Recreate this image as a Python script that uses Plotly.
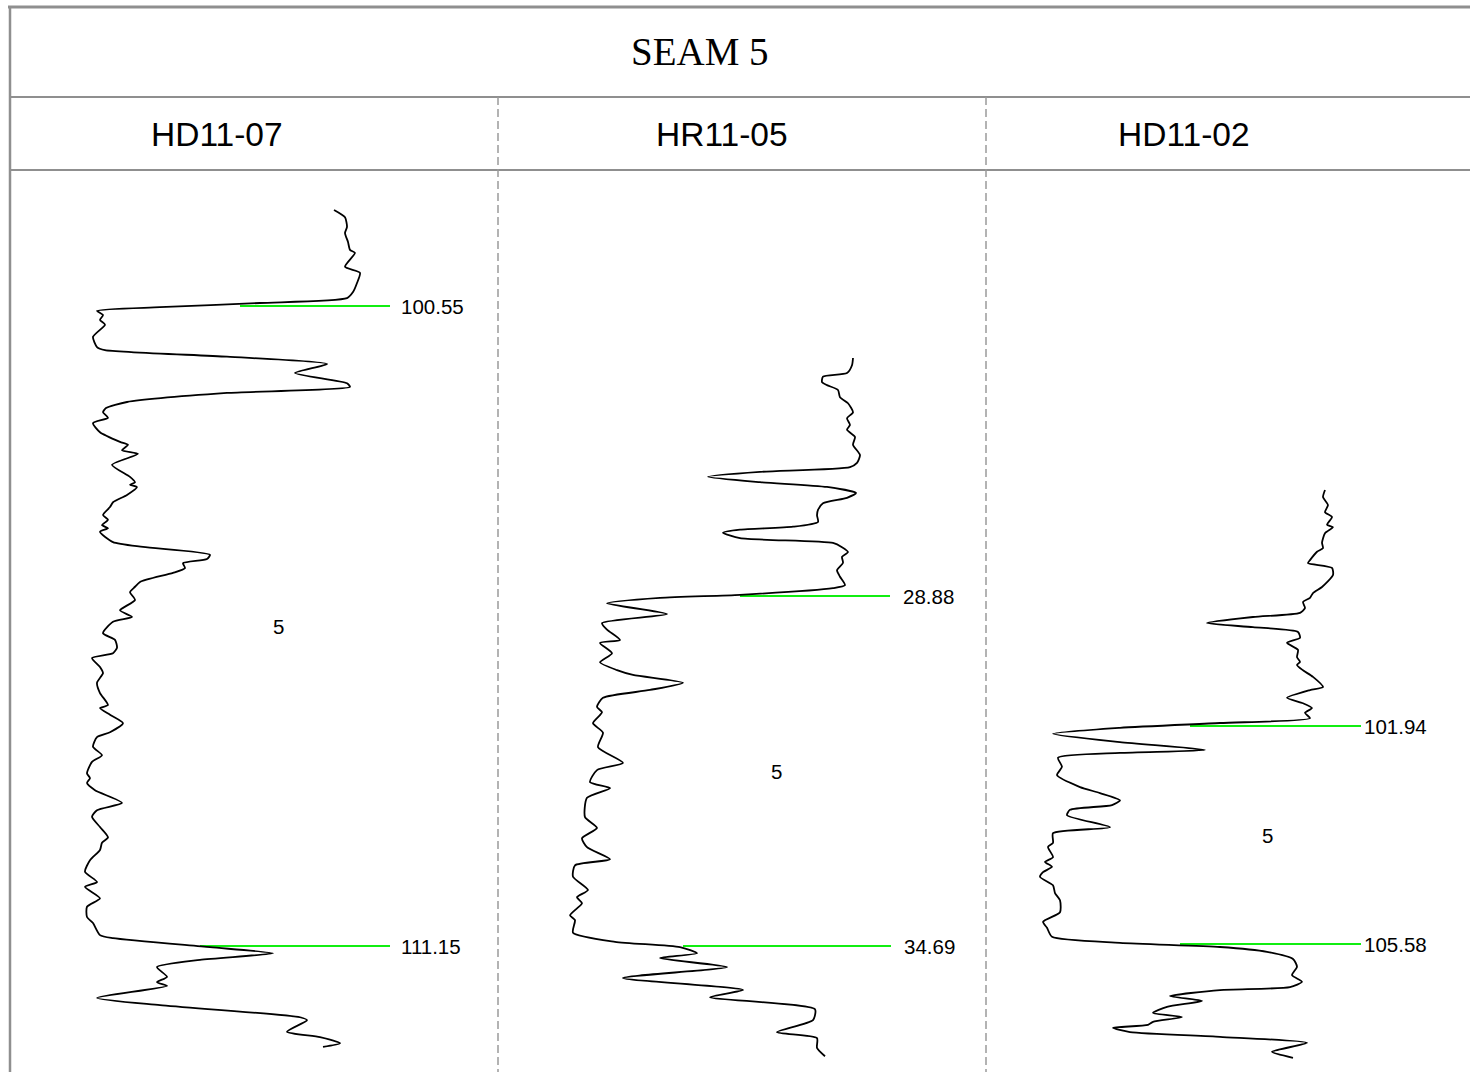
import plotly.graph_objects as go

# ---------------- DATA ----------------
title_text = "SEAM 5"
well_names = ["HD11-07", "HR11-05", "HD11-02"]
zone_name = "5"

# marker depths (top, bottom) per well
markers_hd1107 = [100.55, 111.15]
markers_hr1105 = [28.88, 34.69]
markers_hd1102 = [101.94, 105.58]

# HD11-07 log (depth m, GR)
depth_hd1107 = [98.96, 99.08, 99.24, 99.34, 99.49, 99.62, 99.67, 99.90, 100.00, 100.17, 100.32, 100.42,
                100.50, 100.57, 100.63, 100.70, 100.78, 100.86, 101.06, 101.23, 101.28, 101.39, 101.51,
                101.66, 101.83, 101.89, 101.99, 102.14, 102.24, 102.31, 102.40, 102.49, 102.64, 102.80,
                102.85, 102.94, 103.00, 103.18, 103.38, 103.47, 103.51, 103.55, 103.68, 103.80, 103.88,
                104.01, 104.09, 104.18, 104.23, 104.29, 104.46, 104.54, 104.67, 104.74, 104.81, 104.89,
                104.97, 105.12, 105.20, 105.29, 105.42, 105.59, 105.70, 105.78, 105.97, 106.08, 106.21,
                106.30, 106.38, 106.53, 106.63, 106.79, 106.96, 107.16, 107.21, 107.32, 107.46, 107.61,
                107.69, 107.85, 107.99, 108.10, 108.29, 108.37, 108.45, 108.57, 108.78, 108.90, 109.01,
                109.18, 109.35, 109.44, 109.56, 109.73, 109.92, 110.09, 110.17, 110.36, 110.50, 110.67,
                110.77, 110.97, 111.02, 111.17, 111.27, 111.38, 111.50, 111.66, 111.75, 111.81, 112.01,
                112.13, 112.33, 112.38, 112.57, 112.66, 112.76, 112.82]
gr_hd1107 = [162, 167.5, 168.5, 167.5, 169, 170, 172.5, 167.5, 175, 173.5, 171.5, 168.5,
             125, 75, 43.5, 46.5, 45, 47.5, 41.5, 43.5, 47.5, 108.5, 158.5,
             142.5, 168.5, 170, 108.5, 58.5, 48, 46.5, 49, 41.5, 45, 55,
             59, 56, 64, 51, 60, 62.5, 60, 63.5, 58.5, 51.5, 50,
             46.5, 49, 46, 49, 45, 51.5, 66.5, 100, 98.5, 86.5, 87.5,
             81.5, 65, 62.5, 60, 62.5, 55, 61, 51.5, 46.5, 52.5, 53.5,
             51.5, 41, 45, 46.5, 43.5, 45, 49, 45, 50, 56.5, 50,
             43.5, 41.5, 46, 41, 38.5, 40, 38.5, 42.5, 56, 43.5, 41,
             45, 49, 46, 45, 40, 37.5, 43.5, 37.5, 45, 38.5, 38.5,
             41.5, 45, 51.5, 100, 131.5, 95, 73.5, 78.5, 73.5, 78.5, 43.5,
             75, 145, 148.5, 138.5, 155, 165, 156.5]

# HR11-05 log
depth_hr1105 = [24.93, 25.05, 25.18, 25.24, 25.33, 25.38, 25.46, 25.58, 25.68, 25.83, 25.93, 26.04,
                26.12, 26.24, 26.37, 26.54, 26.67, 26.74, 26.82, 26.90, 26.99, 27.07, 27.17, 27.25,
                27.34, 27.45, 27.54, 27.65, 27.73, 27.78, 27.83, 27.92, 28.00, 28.07, 28.15, 28.23,
                28.33, 28.45, 28.56, 28.70, 28.75, 28.86, 28.91, 29.00, 29.18, 29.33, 29.44, 29.61,
                29.66, 29.83, 29.98, 30.11, 30.19, 30.32, 30.44, 30.57, 30.72, 30.81, 30.99, 31.15,
                31.39, 31.65, 31.77, 31.97, 32.07, 32.23, 32.55, 32.73, 32.90, 33.05, 33.25, 33.35,
                33.54, 33.76, 33.88, 33.98, 34.18, 34.26, 34.47, 34.62, 34.71, 34.81, 34.89, 35.04,
                35.22, 35.42, 35.54, 35.74, 35.92, 36.12, 36.22, 36.38, 36.52]
gr_hr1105 = [177.5, 177, 174.5, 162.5, 162, 164.5, 170, 171, 175, 177.5, 174.5, 176,
             174.5, 178.5, 177.5, 181, 179.5, 176, 131, 105, 131, 164.5, 179, 174.5,
             162.5, 160, 159.5, 160, 147.5, 121, 112.5, 121, 167.5, 172, 175, 172,
             172.5, 169.5, 171, 173.5, 167.5, 121, 81, 54.5, 84.5, 52, 54.5, 61,
             51, 57, 51, 59.5, 67.5, 92.5, 76, 52.5, 49.5, 52, 47.5, 52.5,
             50, 62.5, 49.5, 46, 56, 44.5, 43.5, 49.5, 42, 44.5, 56, 38.5,
             37.5, 45, 39.5, 42, 36, 38.5, 37.5, 58.5, 91, 99.5, 81, 114.5,
             62.5, 122.5, 106, 158.5, 157.5, 139.5, 159.5, 159.5, 163.5]

# HD11-02 log
depth_hd1102 = [98.00, 98.12, 98.25, 98.37, 98.45, 98.58, 98.62, 98.72, 98.88, 98.97, 99.03, 99.17,
                99.22, 99.30, 99.42, 99.62, 99.72, 99.80, 99.87, 99.97, 100.05, 100.12, 100.22, 100.29,
                100.37, 100.47, 100.55, 100.67, 100.79, 100.87, 100.92, 101.01, 101.12, 101.29, 101.34,
                101.47, 101.56, 101.64, 101.72, 101.81, 101.89, 101.97, 102.07, 102.21, 102.34, 102.39,
                102.47, 102.62, 102.76, 102.96, 103.06, 103.18, 103.26, 103.34, 103.43, 103.63, 103.73,
                103.89, 103.96, 104.13, 104.21, 104.29, 104.38, 104.46, 104.60, 104.73, 104.85, 105.05,
                105.21, 105.31, 105.46, 105.56, 105.63, 105.71, 105.83, 105.96, 106.10, 106.21, 106.30,
                106.35, 106.45, 106.53, 106.63, 106.73, 106.80, 106.88, 106.93, 106.98, 107.05, 107.13,
                107.23, 107.38, 107.48]
gr_hd1102 = [169.5, 168.5, 171, 169.5, 173, 170.5, 173.5, 169.5, 168, 168.5, 165.5, 162,
             161, 173, 173.5, 168, 163.5, 162, 158.5, 159.5, 157, 133.5, 110.5, 133.5,
             156, 157, 150.5, 156, 155.5, 157, 155.5, 158.5, 163.5, 168.5, 162,
             150.5, 158.5, 163, 159.5, 162, 117, 67, 33.5, 67, 109.5, 67,
             36, 38, 35.5, 47, 57, 67, 63, 42, 40.5, 62, 33.5,
             33.5, 31, 33.5, 29.5, 33, 28.5, 27, 33.5, 34.5, 37, 37,
             28.5, 30.5, 33, 67, 117, 140.5, 153.5, 155.5, 153, 158, 152,
             117, 92, 108, 90.5, 83.5, 98, 83.5, 81, 63.5, 72, 117,
             160.5, 143, 153.5]

# marker line extents in GR units (start, end) for top and bottom markers
marker_gr_hd1107 = [(115, 190), (95, 190)]
marker_gr_hr1105 = [(121, 196), (92.5, 196.5)]
marker_gr_hd1102 = [(102, 187.5), (97, 187.5)]
zone_label_gr = [134, 139, 140.5]

# ---------------- LAYOUT CONSTANTS ----------------
W, H = 1470, 1072
def px(x):
    return x / W
def py(y):
    return 1 - y / H

col_edges = [10, 498, 986, 1470]
plot_top_px = 170
gr_per_px = 0.5
# pixel rows of the top/bottom marker in each panel
marker_px = [(306, 946), (596, 946), (726, 944)]
label_gap_px = [9, 11, 1]

wells = [
    (depth_hd1107, gr_hd1107, markers_hd1107, marker_gr_hd1107),
    (depth_hr1105, gr_hr1105, markers_hr1105, marker_gr_hr1105),
    (depth_hd1102, gr_hd1102, markers_hd1102, marker_gr_hd1102),
]

fig = go.Figure()
annotations = []
shapes = []
green = "#11ee11"
label_font = dict(family="Liberation Sans, Arial", size=20.5, color="black")

green_traces = []
curve_traces = []
for i, (dep, gr, mk, mkgr) in enumerate(wells):
    xa = "x" if i == 0 else f"x{i+1}"
    ya = "y" if i == 0 else f"y{i+1}"
    curve_traces.append(go.Scatter(x=gr, y=dep, mode="lines", xaxis=xa, yaxis=ya,
                                   line=dict(color="black", width=1.8, shape="spline", smoothing=0.6),
                                   hoverinfo="skip", showlegend=False))
    for (d, (g0, g1)) in zip(mk, mkgr):
        green_traces.append(go.Scatter(x=[g0, g1], y=[d, d], mode="lines", xaxis=xa, yaxis=ya,
                                       line=dict(color=green, width=2), hoverinfo="skip", showlegend=False))
        annotations.append(dict(x=g1 + label_gap_px[i] * gr_per_px, y=d, xref=xa, yref=ya,
                                text=f"{d:.2f}", showarrow=False, xanchor="left", yanchor="middle",
                                font=label_font))
    annotations.append(dict(x=zone_label_gr[i], y=(mk[0] + mk[1]) / 2, xref=xa, yref=ya,
                            text=zone_name, showarrow=False, xanchor="center", yanchor="middle",
                            font=label_font))

for t in green_traces + curve_traces:
    fig.add_trace(t)

layout_axes = {}
for i, (dep, gr, mk, mkgr) in enumerate(wells):
    y0p, y1p = marker_px[i]
    scale = (y1p - y0p) / (mk[1] - mk[0])
    d_top = mk[0] - (y0p - plot_top_px) / scale
    d_bot = mk[0] + (H - y0p) / scale
    left, right = col_edges[i], col_edges[i + 1]
    xname = "xaxis" if i == 0 else f"xaxis{i+1}"
    yname = "yaxis" if i == 0 else f"yaxis{i+1}"
    layout_axes[xname] = dict(domain=[px(left), px(right)], range=[0, (right - left) * gr_per_px],
                              visible=False, anchor="y" if i == 0 else f"y{i+1}")
    layout_axes[yname] = dict(domain=[0, py(plot_top_px)], range=[d_bot, d_top],
                              visible=False, anchor="x" if i == 0 else f"x{i+1}")

border = "#8f8f8f"
# table frame
shapes += [
    dict(type="line", xref="paper", yref="paper", x0=px(8), x1=1, y0=py(7), y1=py(7),
         line=dict(color=border, width=3)),
    dict(type="line", xref="paper", yref="paper", x0=px(10), x1=px(10), y0=py(6), y1=0,
         line=dict(color=border, width=2.5)),
    dict(type="line", xref="paper", yref="paper", x0=px(10), x1=1, y0=py(97), y1=py(97),
         line=dict(color=border, width=2)),
    dict(type="line", xref="paper", yref="paper", x0=px(10), x1=1, y0=py(170), y1=py(170),
         line=dict(color=border, width=2)),
]
for xe in col_edges[1:3]:
    shapes.append(dict(type="line", xref="paper", yref="paper", x0=px(xe), x1=px(xe),
                       y0=py(97), y1=0, line=dict(color="#9a9a9a", width=1.5, dash="8px,4px")))

annotations.append(dict(x=px(700), y=py(52), xref="paper", yref="paper", text=title_text,
                        showarrow=False, xanchor="center", yanchor="middle",
                        font=dict(family="Liberation Serif, Times New Roman", size=39, color="black")))
name_x = [217, 722, 1184]
for nx, nm in zip(name_x, well_names):
    annotations.append(dict(x=px(nx), y=py(134), xref="paper", yref="paper", text=nm,
                            showarrow=False, xanchor="center", yanchor="middle",
                            font=dict(family="Liberation Sans, Arial", size=33.5, color="black")))

fig.update_layout(width=W, height=H, margin=dict(l=0, r=0, t=0, b=0),
                  paper_bgcolor="white", plot_bgcolor="rgba(0,0,0,0)",
                  shapes=shapes, annotations=annotations, **layout_axes)

fig.write_html("out.html", config={"displayModeBar": False},
               post_script="document.body.style.margin='0';document.body.style.overflow='hidden';")
